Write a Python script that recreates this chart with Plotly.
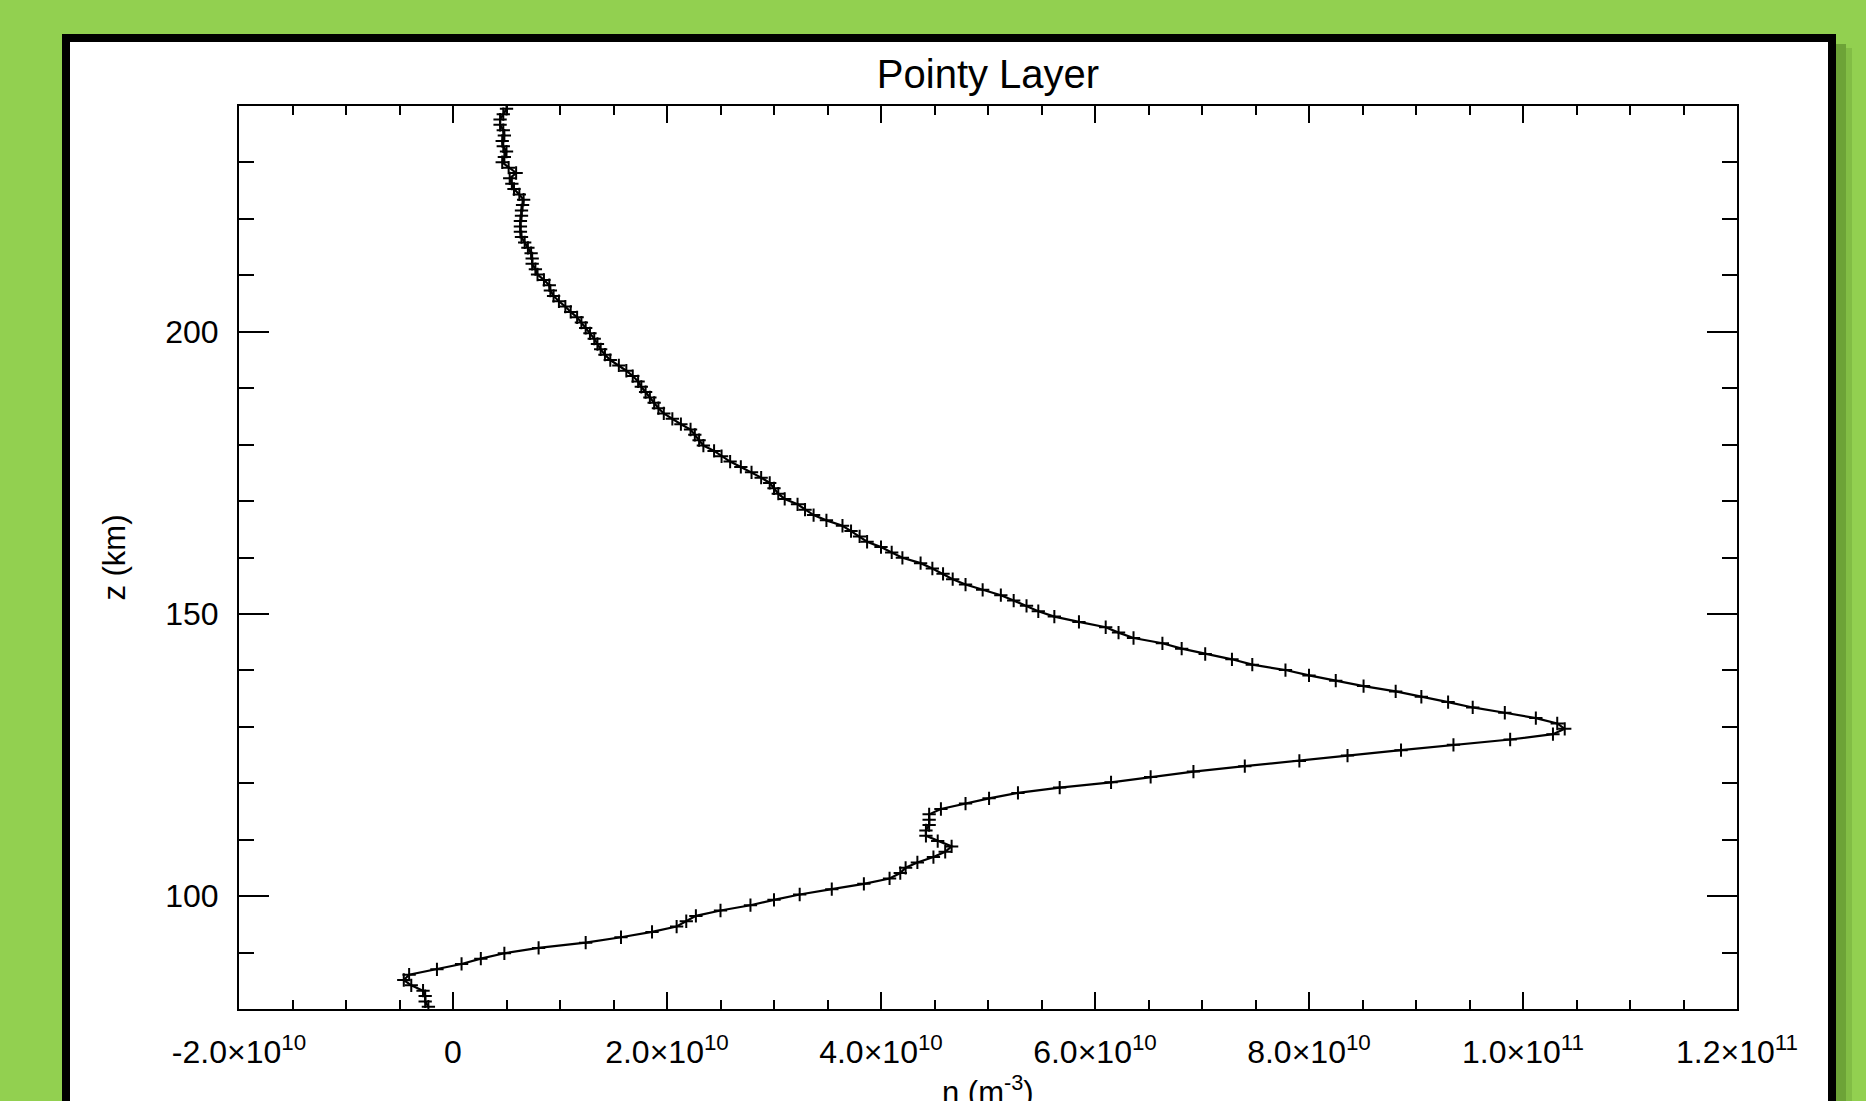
import plotly.graph_objects as go

# Altitude (km) of each sample
z_km = [80.40, 81.35, 82.29, 83.24, 84.19, 85.14, 86.08, 87.03, 87.98, 88.92,
        89.87, 90.82, 91.76, 92.71, 93.66, 94.61, 95.55, 96.50, 97.45, 98.39,
        99.34, 100.29, 101.23, 102.18, 103.13, 104.08, 105.02, 105.97, 106.92, 107.86,
        108.81, 109.76, 110.70, 111.65, 112.60, 113.55, 114.49, 115.44, 116.39, 117.33,
        118.28, 119.23, 120.17, 121.12, 122.07, 123.02, 123.96, 124.91, 125.86, 126.80,
        127.75, 128.70, 129.64, 130.59, 131.54, 132.49, 133.43, 134.38, 135.33, 136.27,
        137.22, 138.17, 139.11, 140.06, 141.01, 141.96, 142.90, 143.85, 144.80, 145.74,
        146.69, 147.64, 148.58, 149.53, 150.48, 151.43, 152.37, 153.32, 154.27, 155.21,
        156.16, 157.11, 158.05, 159.00, 159.95, 160.90, 161.84, 162.79, 163.74, 164.68,
        165.63, 166.58, 167.52, 168.47, 169.42, 170.37, 171.31, 172.26, 173.21, 174.15,
        175.10, 176.05, 176.99, 177.94, 178.89, 179.84, 180.78, 181.73, 182.68, 183.62,
        184.57, 185.52, 186.46, 187.41, 188.36, 189.31, 190.25, 191.20, 192.15, 193.09,
        194.04, 194.99, 195.93, 196.88, 197.83, 198.78, 199.72, 200.67, 201.62, 202.56,
        203.51, 204.46, 205.40, 206.35, 207.30, 208.25, 209.19, 210.14, 211.09, 212.03,
        212.98, 213.93, 214.87, 215.82, 216.77, 217.72, 218.66, 219.61, 220.56, 221.50,
        222.45, 223.40, 224.34, 225.29, 226.24, 227.19, 228.13, 229.08, 230.03, 230.97,
        231.92, 232.87, 233.81, 234.76, 235.71, 236.66, 237.60, 238.55, 239.50]

# Density in units of 1e10 m^-3
n_e10 = [-0.23, -0.26, -0.26, -0.28, -0.39, -0.46, -0.41, -0.15, 0.08, 0.26,
         0.48, 0.80, 1.24, 1.57, 1.86, 2.09, 2.18, 2.27, 2.50, 2.78,
         3.00, 3.24, 3.54, 3.84, 4.08, 4.18, 4.23, 4.34, 4.49, 4.60,
         4.66, 4.53, 4.42, 4.42, 4.45, 4.45, 4.45, 4.56, 4.79, 5.01,
         5.28, 5.67, 6.15, 6.52, 6.92, 7.40, 7.91, 8.36, 8.86, 9.35,
         9.88, 10.28, 10.39, 10.32, 10.12, 9.83, 9.53, 9.30, 9.05, 8.81,
         8.51, 8.25, 8.00, 7.78, 7.47, 7.28, 7.03, 6.81, 6.63, 6.36,
         6.22, 6.10, 5.85, 5.62, 5.47, 5.36, 5.24, 5.12, 4.95, 4.79,
         4.67, 4.58, 4.48, 4.37, 4.20, 4.10, 4.00, 3.87, 3.80, 3.72,
         3.64, 3.49, 3.37, 3.29, 3.22, 3.10, 3.04, 3.00, 2.96, 2.88,
         2.79, 2.69, 2.59, 2.51, 2.44, 2.34, 2.30, 2.26, 2.22, 2.13,
         2.05, 1.97, 1.92, 1.88, 1.84, 1.80, 1.76, 1.73, 1.68, 1.62,
         1.55, 1.47, 1.42, 1.38, 1.35, 1.32, 1.28, 1.24, 1.20, 1.16,
         1.10, 1.05, 0.99, 0.94, 0.91, 0.90, 0.85, 0.79, 0.77, 0.74,
         0.74, 0.73, 0.70, 0.67, 0.64, 0.63, 0.63, 0.63, 0.64, 0.64,
         0.65, 0.66, 0.62, 0.57, 0.55, 0.53, 0.59, 0.52, 0.46, 0.48,
         0.50, 0.47, 0.46, 0.48, 0.47, 0.44, 0.44, 0.47, 0.50]

x_tick_vals = [-2e10, 0, 2e10, 4e10, 6e10, 8e10, 1e11, 1.2e11]
x_tick_text = ["-2.0×10<sup>10</sup>", "0", "2.0×10<sup>10</sup>", "4.0×10<sup>10</sup>",
               "6.0×10<sup>10</sup>", "8.0×10<sup>10</sup>", "1.0×10<sup>11</sup>",
               "1.2×10<sup>11</sup>"]
y_tick_vals = [100, 150, 200]

n_vals = [v * 1e10 for v in n_e10]

W, H = 1866, 1101
L, R, T, B = 239, 1737, 106, 1009  # plot area in pixels
def px2x(px):
    return (px - L) / (R - L)
def py2y(py):
    return (B - py) / (B - T)

FONT = "Liberation Sans, Arial, Helvetica, sans-serif"

fig = go.Figure()
fig.add_trace(go.Scatter(
    x=n_vals, y=z_km, mode="lines+markers",
    line=dict(color="black", width=2.2),
    marker=dict(symbol="cross-thin", size=9.5, line=dict(color="black", width=2)),
    showlegend=False, cliponaxis=True,
))

shapes = [
    # drop shadow of the slide box
    dict(type="rect", xref="paper", yref="paper", x0=px2x(1836), x1=px2x(1846),
         y0=py2y(1110), y1=py2y(44), line=dict(width=0), fillcolor="rgba(40,80,10,0.35)", layer="below"),
    dict(type="rect", xref="paper", yref="paper", x0=px2x(1846), x1=px2x(1852),
         y0=py2y(1110), y1=py2y(48), line=dict(width=0), fillcolor="rgba(40,80,10,0.15)", layer="below"),
    # white box with black frame
    dict(type="rect", xref="paper", yref="paper", x0=px2x(66), x1=px2x(1832),
         y0=py2y(1140), y1=py2y(38), line=dict(color="black", width=8),
         fillcolor="white", layer="below"),
]

axis_common = dict(showline=True, linecolor="black", linewidth=2, mirror="ticks",
                   ticks="inside", tickcolor="black", tickwidth=2,
                   showgrid=False, zeroline=False, automargin=False,
                   tickfont=dict(family=FONT, size=32, color="black"))

fig.update_layout(
    width=W, height=H, autosize=False,
    margin=dict(l=L, r=W - R, t=T, b=H - B, pad=0, autoexpand=False),
    paper_bgcolor="#92D050", plot_bgcolor="white",
    shapes=shapes,
    title=dict(text="Pointy Layer", x=988 / W, xanchor="center",
               y=1 - 74 / H, yanchor="middle", yref="container",
               font=dict(family=FONT, size=40, color="black")),
    annotations=[dict(text="n (m<sup>-3</sup>)", xref="paper", yref="paper",
                      x=0.5, y=py2y(1090), xanchor="center", yanchor="middle",
                      showarrow=False, font=dict(family=FONT, size=31, color="black"))],
    xaxis=dict(range=[-2e10, 1.2e11], tickmode="array", tickvals=x_tick_vals,
               ticktext=x_tick_text, ticklen=17, ticklabelstandoff=14,
               minor=dict(dtick=0.5e10, tick0=0, ticklen=9, tickwidth=2, tickcolor="black",
                          ticks="inside", showgrid=False),
               **axis_common),
    yaxis=dict(range=[80, 240], tickmode="array", tickvals=y_tick_vals,
               ticklen=30, ticklabelstandoff=12,
               minor=dict(dtick=10, tick0=0, ticklen=15, tickwidth=2, tickcolor="black",
                          ticks="inside", showgrid=False),
               title=dict(text="z (km)", standoff=30,
                          font=dict(family=FONT, size=31, color="black")),
               **axis_common),
)

fig.write_html("out.html")
